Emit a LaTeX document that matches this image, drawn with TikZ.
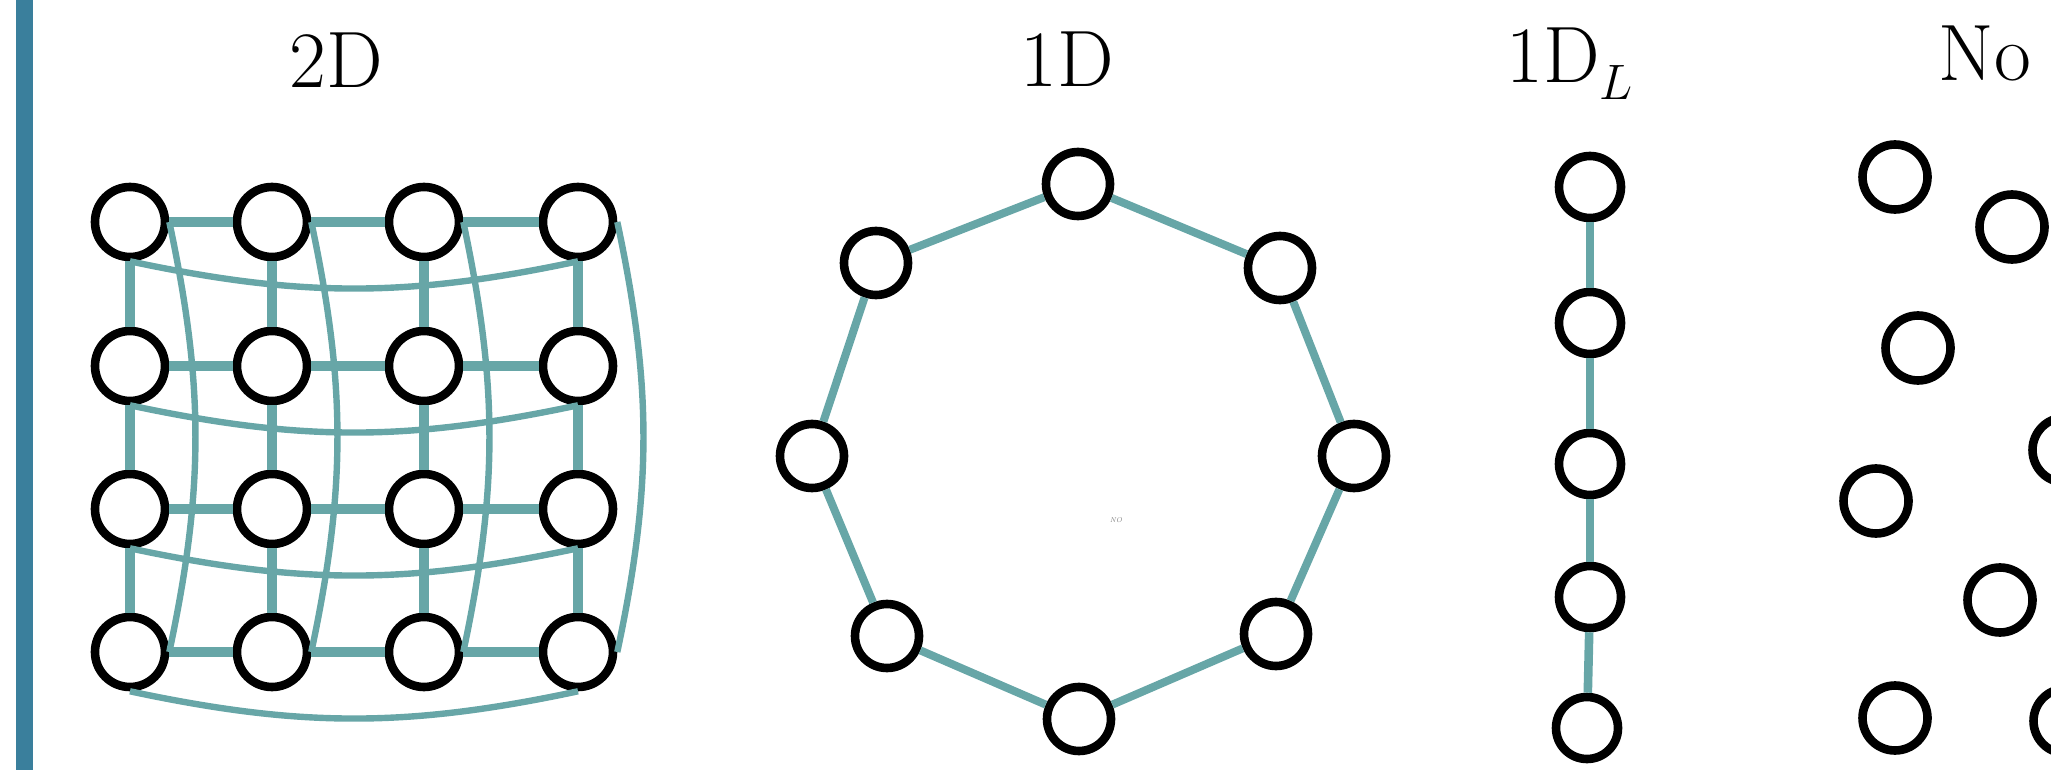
\documentclass[tikz,border=0pt]{standalone}
\usepackage{tikz}

\definecolor{bondteal}{HTML}{67A6A7}
\definecolor{barblue}{HTML}{3A7F9C}

\tikzset{
    site/.style={circle, draw=black, fill=white, line width=4.3pt, inner sep=0pt, minimum size=#1},
    site/.default=35pt,
    bond/.style={bondteal, line width=5pt},
    wrap/.style={bondteal, line width=3.2pt},
    title/.style={anchor=base, font=\fontsize{40}{44}\selectfont},
}

\begin{document}
\begin{tikzpicture}[x=0.5pt, y=0.5pt]
    \useasboundingbox (0,0) rectangle (2051,-770);
    \clip (0,0) rectangle (2051,-770);
    \fill[barblue] (16,0) rectangle (33,-770);

    \node[title] (t2d) at (336,-88) {2D};
    \node[title] (t1d) at (1067,-87) {1D};
    \node[title] (t1dl) at (1570,-83) {1D$_L$};
    \node[title] (tno) at (1985,-81) {No};

    \foreach \y [count=\r] in {222,366,509,652} {
        \foreach \x [count=\c] in {130,272,424,578} {
            \node[site] (g\r\c) at (\x,-\y) {};
        }
    }
    \foreach \r in {1,...,4} {
        \foreach \c/\d in {1/2,2/3,3/4} {
            \draw[bond] (g\r\c) -- (g\r\d);
            \draw[bond] (g\c\r) -- (g\d\r);
        }
        \draw[wrap] (g\r1.south) to[bend right=12] (g\r4.south);
        \draw[wrap] (g1\r.east) to[bend left=12] (g4\r.east);
    }

    \foreach \x/\y [count=\i] in {1078/184, 1280/268, 1354/456, 1276/634, 1079/719, 887/636, 812/456, 876/263} {
        \node[site=32pt] (r\i) at (\x,-\y) {};
    }
    \foreach \i/\j in {1/2,2/3,3/4,4/5,5/6,6/7,7/8,8/1} {
        \draw[bond, line width=4pt] (r\i) -- (r\j);
    }
    \node[gray, font=\fontsize{3.5}{4}\selectfont\itshape] (no) at (1116,-520) {NO};

    \foreach \x/\y [count=\i] in {1590/187, 1590/323, 1590/464, 1590/597, 1587/728} {
        \node[site=31pt] (l\i) at (\x,-\y) {};
    }
    \foreach \i/\j in {1/2,2/3,3/4,4/5} {
        \draw[bond, line width=4.3pt] (l\i) -- (l\j);
    }

    \foreach \x/\y [count=\i] in {1895/177, 2012/227, 1918/348, 2065/450, 1876/501, 2000/600, 1895/718, 2066/721} {
        \node[site=32.5pt] (f\i) at (\x,-\y) {};
    }
\end{tikzpicture}
\end{document}
